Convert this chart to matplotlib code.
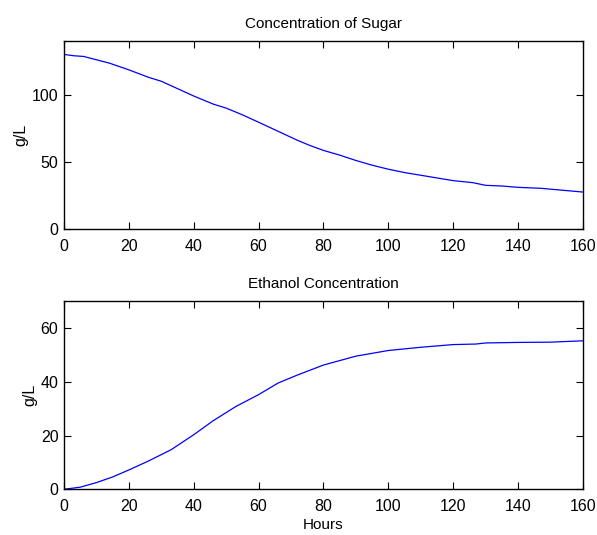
import matplotlib
matplotlib.use("Agg")
import matplotlib.pyplot as plt

plt.rcParams['font.family'] = ['Liberation Sans', 'DejaVu Sans']

# sugar consumption over the fermentation run
sugar_hours = [0, 3, 6, 10, 14, 20, 26, 30, 35, 40, 46, 50, 55, 60, 64, 68, 72, 76, 80, 85, 90, 95, 100, 105, 110, 115, 120, 126, 130, 135, 140, 147, 153, 160]
sugar_gl = [130, 129, 128.5, 126, 123.5, 118.5, 113, 110, 104.5, 99, 93, 90, 85, 79.5, 75, 70.5, 66, 62, 58.5, 55, 51, 47.5, 44.5, 42, 40, 38, 36, 34.5, 32.5, 32, 31, 30.3, 29, 27.5]

# ethanol produced over the same run
ethanol_hours = [0, 5, 10, 15, 20, 26, 33, 40, 46, 53, 60, 66, 72, 80, 90, 100, 110, 120, 127, 130, 140, 150, 160]
ethanol_gl = [0, 0.8, 2.5, 4.6, 7.2, 10.5, 14.7, 20.3, 25.5, 30.8, 35.2, 39.5, 42.5, 46.2, 49.5, 51.6, 52.8, 53.8, 54.0, 54.4, 54.6, 54.7, 55.2]

fig = plt.figure(figsize=(5.97, 5.35), dpi=100)

ax1 = fig.add_axes([0.1072, 0.572, 0.8693, 0.3514])
ax1.plot(sugar_hours, sugar_gl, color='#0000ff', lw=0.9)
ax1.set_xlim(0, 160)
ax1.set_ylim(0, 140)
ax1.set_yticks([0, 50, 100])
ax1.set_xticks(range(0, 161, 20))
ax1.set_ylabel('g/L', fontsize=11.5, labelpad=2.5)
ax1.set_title('Concentration of Sugar', fontsize=11, pad=9)

ax2 = fig.add_axes([0.1072, 0.0854, 0.8693, 0.352])
ax2.plot(ethanol_hours, ethanol_gl, color='#0000ff', lw=0.9)
ax2.set_xlim(0, 160)
ax2.set_ylim(0, 70)
ax2.set_yticks([0, 20, 40, 60])
ax2.set_xticks(range(0, 161, 20))
ax2.set_ylabel('g/L', fontsize=11.5, labelpad=2)
ax2.set_xlabel('Hours', fontsize=11, labelpad=3)
ax2.set_title('Ethanol Concentration', fontsize=11, pad=9)

for ax in (ax1, ax2):
    ax.tick_params(direction='in', top=True, right=True, labelsize=11.5, length=5, width=0.8)
    ax.tick_params(axis='x', pad=7)
    ax.tick_params(axis='y', pad=4)
    for s in ax.spines.values():
        s.set_linewidth(1.0)

fig.savefig('out.png', dpi=100)
